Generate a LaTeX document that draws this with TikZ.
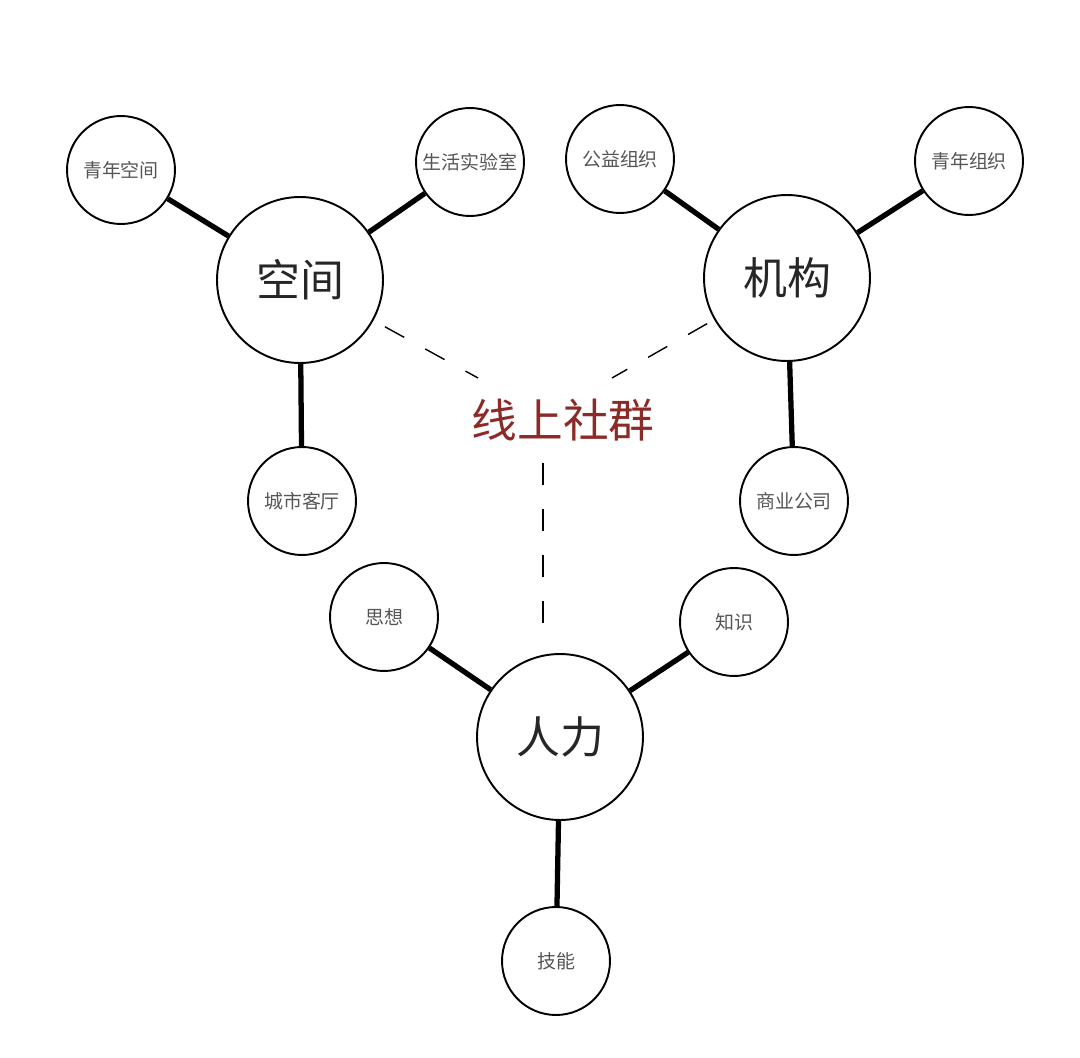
\documentclass[tikz,border=0pt]{standalone}
\usepackage{fontspec}
\newfontfamily\cjk{Noto Sans CJK SC}
\usetikzlibrary{calc}
\definecolor{hubred}{RGB}{140,42,40}
\definecolor{leafgray}{RGB}{85,85,85}

\begin{document}
\begin{tikzpicture}[
    x=0.02cm, y=-0.02cm,
    hub/.style={circle,draw,line width=1.1pt,minimum size=3.32cm,inner sep=0pt,font=\cjk\fontsize{25}{30}\selectfont,text=black!85},
    leaf/.style={circle,draw,line width=1.1pt,minimum size=2.16cm,inner sep=0pt,font=\cjk\fontsize{10.8}{12}\selectfont,text=leafgray},
    link/.style={line width=3pt},
    dashlink/.style={line width=0.8pt,dash pattern=on 0.44cm off 0.48cm}
]
    \useasboundingbox (0,0) rectangle (1080,1058);
    \node[hub] (kongjian) at (300,280) {空间};
    \node[hub] (jigou) at (787,278) {机构};
    \node[hub] (renli) at (560,737) {人力};
    \node[font=\cjk\fontsize{26}{30}\selectfont,text=hubred] (shequn) at (563,420) {线上社群};

    \node[leaf] (qnkj) at (121,170) {青年空间};
    \node[leaf] (shsys) at (470,162) {生活实验室};
    \node[leaf] (cskt) at (302,501) {城市客厅};
    \node[leaf] (gyzz) at (620,159) {公益组织};
    \node[leaf] (qnzz) at (969,161) {青年组织};
    \node[leaf] (sygs) at (794,501) {商业公司};
    \node[leaf] (sixiang) at (384,617) {思想};
    \node[leaf] (zhishi) at (734,622) {知识};
    \node[leaf] (jineng) at (556,961) {技能};

    \coordinate (dleft) at (478,378);
    \coordinate (dright) at (612,378);
    \coordinate (vtop) at (543,463);
    \coordinate (vbot) at (543,623);

    \draw[link] (kongjian) -- (qnkj);
    \draw[link] (kongjian) -- (shsys);
    \draw[link] (kongjian) -- (cskt);
    \draw[link] (jigou) -- (gyzz);
    \draw[link] (jigou) -- (qnzz);
    \draw[link] (jigou) -- (sygs);
    \draw[link] (renli) -- (sixiang);
    \draw[link] (renli) -- (zhishi);
    \draw[link] (renli) -- (jineng);

    \draw[dashlink,shorten <=0.26cm] (kongjian) -- (dleft);
    \draw[dashlink,shorten <=0.16cm] (jigou) -- (dright);
    \draw[dashlink] (vtop) -- (vbot);
\end{tikzpicture}
\end{document}
